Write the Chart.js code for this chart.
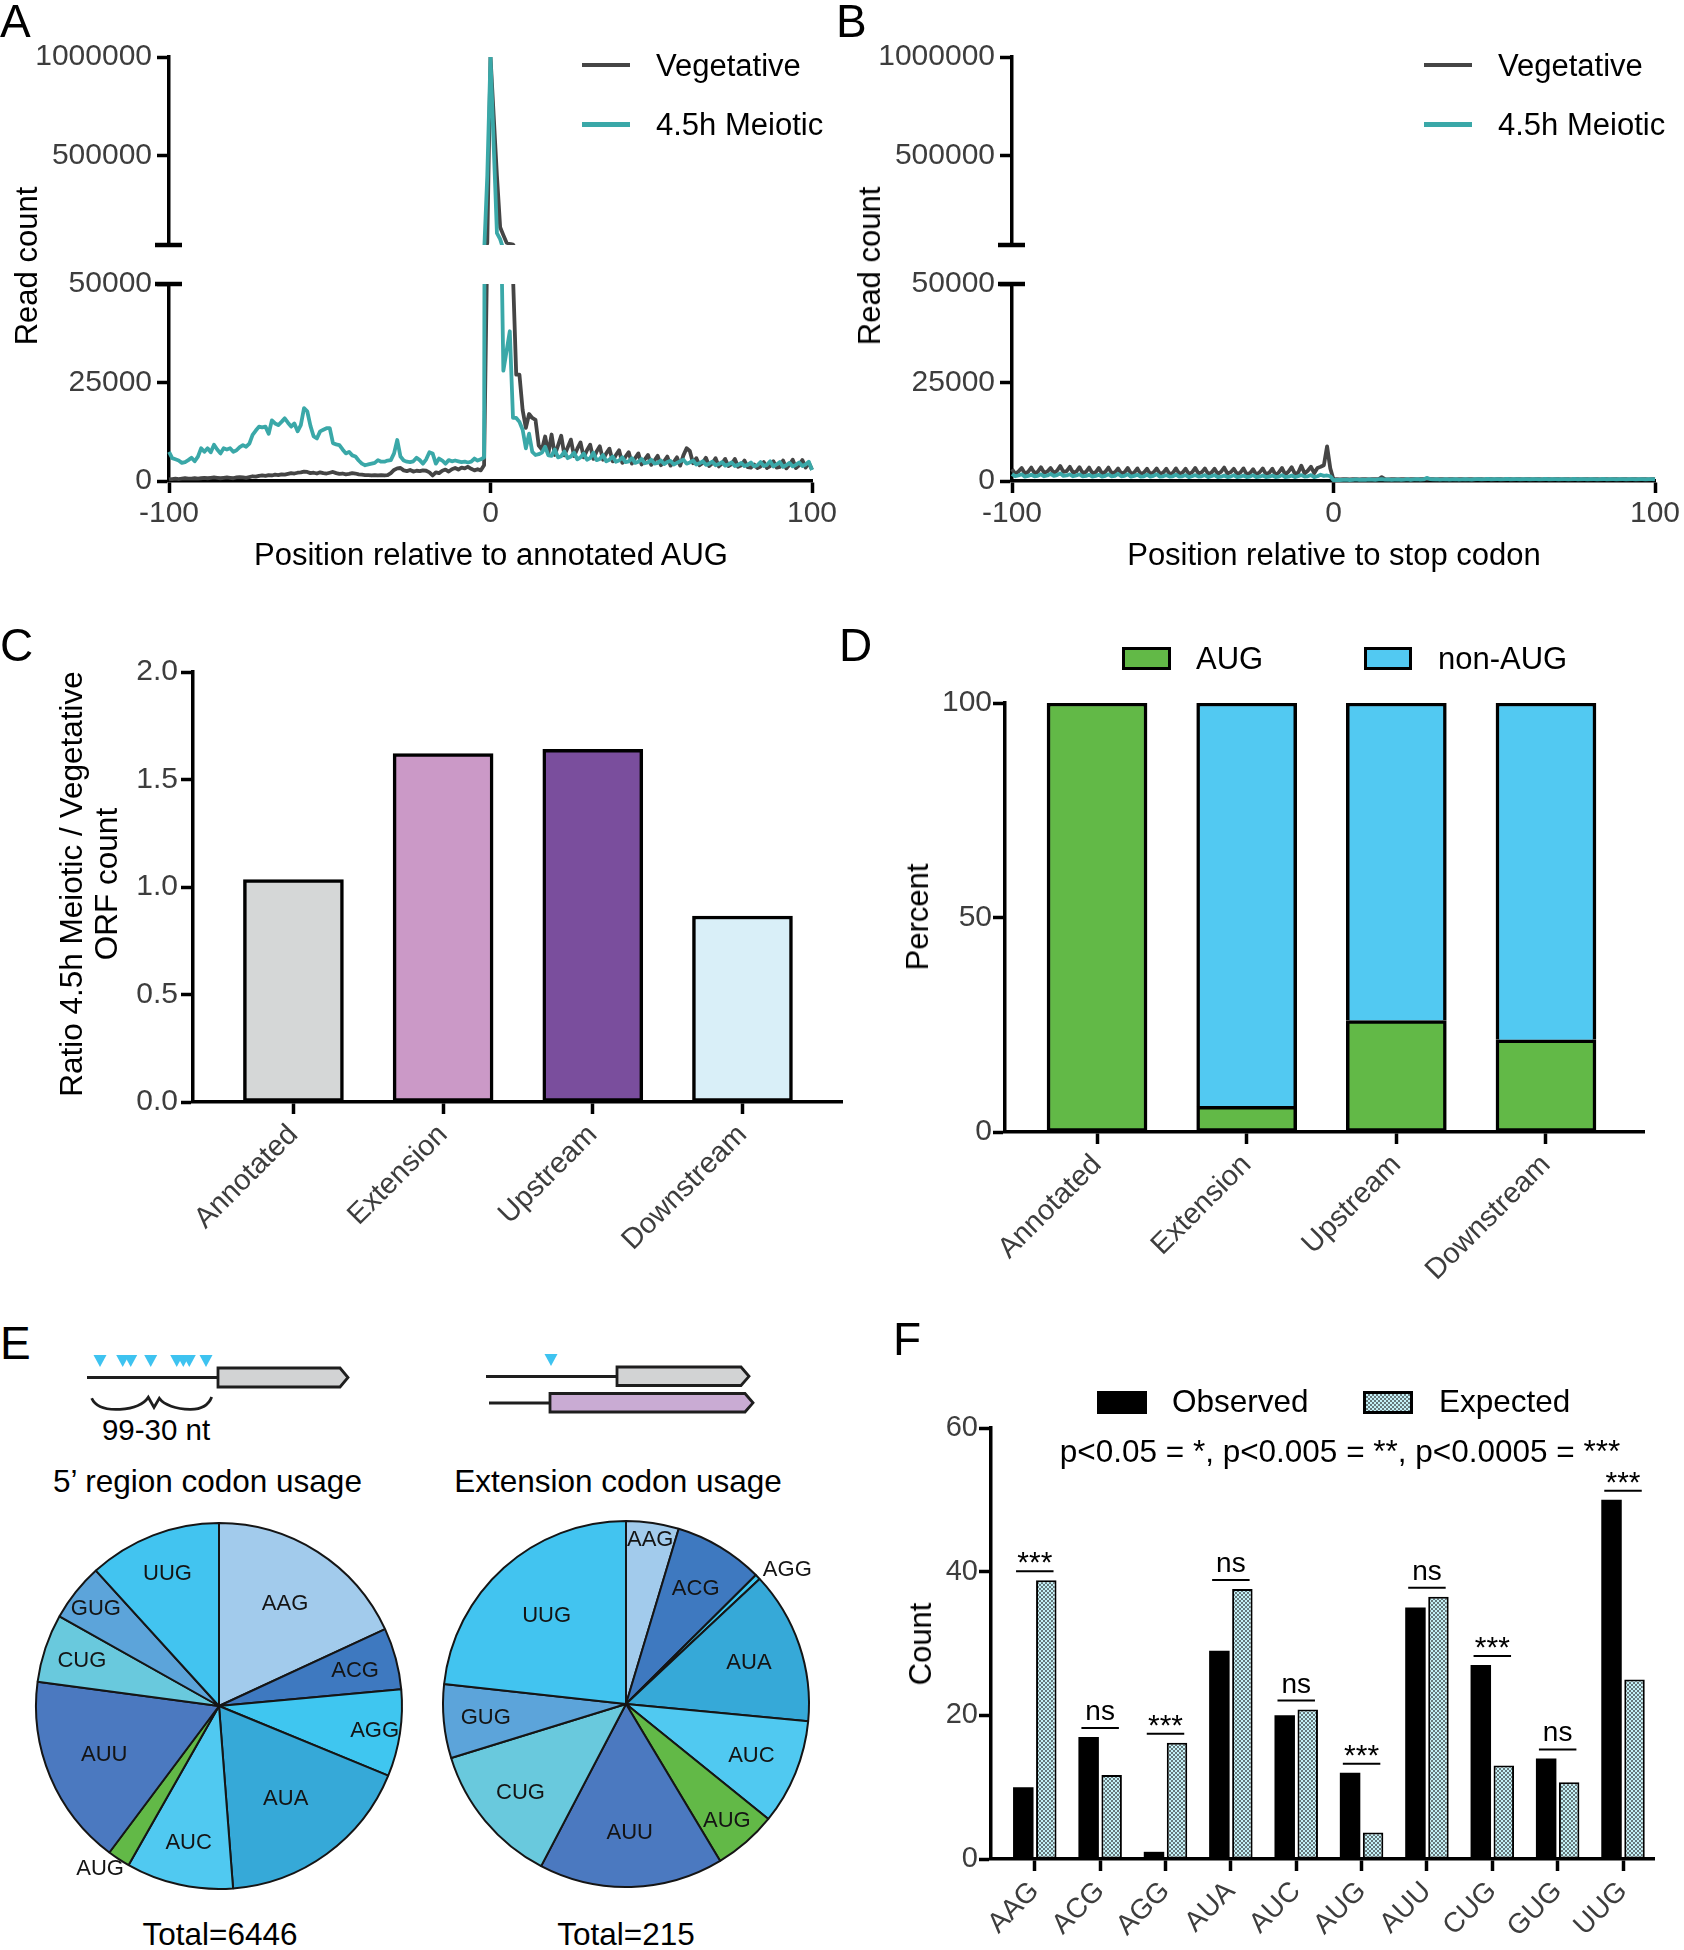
<!DOCTYPE html>
<html>
<head>
<meta charset="utf-8">
<title>Ribosome profiling panels</title>
<script src="https://cdn.jsdelivr.net/npm/chart.js@4.4.1/dist/chart.umd.min.js"></script>
<style>
  html, body { margin: 0; padding: 0; background: #fff; }
  body { position: relative; width: 1684px; height: 1950px; overflow: hidden;
         font-family: "Liberation Sans", Arial, Helvetica, sans-serif; color: #000; }
  canvas { position: absolute; }
  .t { position: absolute; white-space: nowrap; }
  .box { position: absolute; box-sizing: border-box; border: 3px solid #000; }
  .key { position: absolute; height: 4.5px; }
  svg { position: absolute; left: 0; top: 0; }
</style>
</head>
<body>
<svg width="1684" height="1950">
  <g stroke="#1e1e1e" stroke-width="2.8" fill="none">
    <line x1="87" y1="1377.5" x2="218" y2="1377.5"/>
    <line x1="486" y1="1376.5" x2="617" y2="1376.5"/>
    <line x1="489" y1="1403" x2="550" y2="1403"/>
    <path d="M91.7 1398.3 C96 1408 108 1410 120 1409.3 C134 1408.5 144 1404 148.3 1397.3 L154 1407.5 L159.3 1398.3 C164 1405 176 1409 190 1409.3 C202 1409.5 209 1404 211.7 1397"/>
  </g>
  <g stroke="#1e1e1e" stroke-width="2.8">
    <polygon points="218,1368 340,1368 348,1377.5 340,1387 218,1387" fill="#d2d3d4"/>
    <polygon points="617,1367 741,1367 749,1376.3 741,1385.5 617,1385.5" fill="#d2d3d4"/>
    <polygon points="550,1393.5 745,1393.5 753,1402.8 745,1412 550,1412" fill="#c9abd3"/>
  </g>
  <g fill="#3ec3f0">
    <polygon points="93.5,1355 106.5,1355 100,1367"/>
    <polygon points="116.2,1355 129.2,1355 122.7,1367"/>
    <polygon points="124.2,1355 137.2,1355 130.7,1367"/>
    <polygon points="144.2,1355 157.2,1355 150.7,1367"/>
    <polygon points="170.2,1355 183.2,1355 176.7,1367"/>
    <polygon points="176.8,1355 189.8,1355 183.3,1367"/>
    <polygon points="182.8,1355 195.8,1355 189.3,1367"/>
    <polygon points="199.5,1355 212.5,1355 206,1367"/>
    <polygon points="544.5,1354 557.5,1354 551,1366"/>
  </g>
</svg>
<script>
// ---- data ----
const positions = Array.from({length: 201}, (_, i) => i - 100);   // nt, -100 .. 100

// A: read count around the annotated AUG
const aVegetative = [
  400, 500, 600, 500, 600, 700, 600, 600, 700, 600,
  700, 800, 700, 800, 900, 800, 700, 800, 900, 800,
  700, 900, 1000, 900, 800, 1000, 1200, 1100, 1300, 1400,
  1300, 1500, 1400, 1600, 1500, 1700, 1600, 1800, 2000, 1900,
  2100, 2200, 2400, 2300, 2000, 2100, 1900, 2200, 2000, 1900,
  2100, 2300, 2000, 1800, 1900, 1700, 1800, 2000, 1900, 1700,
  1600, 1500, 1500, 1400, 1500, 1400, 1500, 1400, 1500, 2000,
  2800, 3200, 3300, 2700, 2500, 2800, 2400, 2600, 2500, 2700,
  2600, 2200, 1400, 2200, 2000, 2600, 2900, 2400, 3000, 3300,
  2900, 3400, 3200, 3600, 3100, 2700, 3000, 2700, 4000, 60000,
  1000000, 700000, 400000, 140000, 100000, 62000, 56000, 52000, 27000, 27000,
  18000, 13500, 17000, 16000, 15500, 9000, 8000, 11300, 7000, 11800,
  6600, 9000, 11500, 6500, 8500, 10500, 6300, 8200, 9800, 6000,
  7800, 9200, 5600, 7500, 8800, 5400, 7000, 8200, 5000, 6600,
  7800, 4600, 6200, 7300, 4400, 5800, 7000, 4200, 5500, 6600,
  4100, 5200, 6400, 4000, 5000, 6200, 3900, 4800, 6000, 3900,
  6500, 8300, 7600, 4500, 5800, 4000, 4600, 5900, 3800, 4500,
  5800, 3700, 4400, 5600, 3800, 4300, 5600, 3600, 4000, 5200,
  3500, 3400, 4200, 3300, 3700, 4800, 3300, 3800, 5000, 3400,
  3600, 5200, 3200, 4100, 5400, 3300, 4000, 5300, 3400, 4600, 2900
];
const aMeiotic = [
  7400, 5800, 5500, 5200, 4600, 4800, 5300, 5900, 5000, 6200,
  8300, 7400, 8300, 7300, 9200, 8000, 7000, 8300, 8000, 8300,
  7400, 7800, 8600, 9100, 8700, 9500, 11700, 12800, 13800, 13600,
  13800, 12000, 15400, 14600, 14200, 15000, 15900, 14800, 13800, 14600,
  12600, 14200, 18500, 17700, 14000, 11300, 10800, 12600, 13000, 13400,
  13400, 9600, 9300, 9100, 8000, 7000, 7400, 6500, 6200, 5200,
  4400, 4000, 4200, 4400, 4600, 5300, 4900, 4900, 5200, 5300,
  7000, 10400, 6200, 5200, 4900, 4800, 5000, 5900, 5300, 4400,
  5500, 7300, 7000, 4400, 5700, 5200, 4400, 5300, 5000, 5200,
  5000, 4800, 4900, 4700, 4900, 5700, 5200, 5500, 6000, 400000,
  1000000, 550000, 110000, 80000, 28000, 33000, 38000, 16000, 16000, 15000,
  13000, 8300, 12000, 7400, 6600, 6800, 7200, 8700, 6500, 6400,
  8000, 6000, 6300, 7500, 5800, 6200, 7200, 5500, 6000, 7000,
  5400, 5800, 7200, 5300, 5600, 6600, 5000, 5400, 6200, 4900,
  5200, 6000, 4800, 5000, 5800, 4600, 4900, 5600, 4500, 4700,
  5400, 4400, 4600, 5200, 4300, 4800, 5100, 4200, 4600, 5000,
  5400, 4400, 4700, 5200, 4200, 4500, 5000, 4100, 4400, 4900,
  4000, 4300, 4800, 3900, 4200, 4700, 3800, 4100, 4600, 3800,
  4100, 4700, 3700, 4000, 4800, 3800, 4100, 5000, 3700, 4200,
  4800, 3600, 4000, 4600, 3700, 4100, 4700, 3800, 4200, 4900, 2800
];

// B: read count around the stop codon
const bVegetative = [
  3000, 1800, 2400, 3300, 1900, 2300, 3400, 2000, 2300, 3500,
  2100, 2400, 3300, 2000, 2600, 3800, 2300, 2500, 3600, 2100,
  2400, 3500, 2000, 2300, 3400, 2000, 2200, 3300, 1900, 2300,
  3400, 2000, 2200, 3200, 1900, 2200, 3300, 1900, 2100, 3200,
  1800, 2100, 3100, 1800, 2200, 3200, 1900, 2100, 3100, 1800,
  2000, 3200, 1900, 2100, 3100, 1800, 2200, 3300, 1900, 2200,
  3200, 1800, 2100, 3100, 1800, 2300, 3400, 1900, 2200, 3100,
  1800, 2100, 3200, 1700, 2000, 3000, 1600, 2200, 3200, 1700,
  2100, 3100, 1500, 2200, 3300, 1600, 2400, 3500, 1800, 2100,
  3900, 1900, 2600, 3600, 2000, 3300, 3600, 4000, 8800, 3200,
  400, 500, 400, 450, 500, 400, 450, 500, 400, 450,
  500, 400, 450, 500, 450, 1000, 500, 400, 450, 500,
  400, 450, 500, 400, 450, 500, 400, 450, 500, 400,
  450, 500, 400, 450, 500, 400, 450, 500, 400, 450,
  500, 400, 450, 500, 400, 450, 500, 400, 450, 500,
  400, 450, 500, 400, 450, 500, 400, 450, 500, 400,
  450, 500, 400, 450, 500, 400, 450, 500, 400, 450,
  500, 400, 450, 500, 400, 450, 500, 400, 450, 500,
  400, 450, 500, 400, 450, 500, 400, 450, 500, 400,
  450, 500, 400, 450, 500, 400, 450, 500, 400, 450, 500
];
const bMeiotic = [
  1800, 1200, 1400, 1700, 1100, 1300, 1600, 1200, 1300, 1700,
  1200, 1400, 1800, 1300, 1500, 1900, 1300, 1400, 1700, 1200,
  1400, 1700, 1200, 1300, 1600, 1100, 1300, 1600, 1100, 1300,
  1700, 1200, 1300, 1800, 1200, 1300, 1700, 1100, 1300, 1600,
  1100, 1200, 1600, 1100, 1300, 1700, 1100, 1200, 1500, 1100,
  1200, 1600, 1100, 1200, 1500, 1000, 1200, 1500, 1100, 1200,
  1500, 1000, 1200, 1500, 1000, 1100, 1400, 1000, 1100, 1500,
  1000, 1100, 1400, 1000, 1100, 1500, 1000, 1100, 1400, 1000,
  1100, 1400, 1000, 1100, 1500, 1000, 1100, 1400, 1000, 1200,
  1500, 1100, 1200, 1500, 1000, 1200, 1600, 1300, 1400, 1200,
  200, 300, 250, 300, 350, 250, 300, 400, 300, 350,
  300, 400, 350, 300, 400, 500, 350, 400, 300, 350,
  400, 300, 350, 450, 300, 400, 500, 350, 400, 800,
  500, 400, 450, 350, 400, 500, 350, 400, 450, 350,
  400, 500, 400, 350, 450, 500, 400, 450, 550, 400,
  450, 500, 400, 450, 550, 400, 450, 500, 400, 450,
  500, 400, 450, 500, 400, 450, 550, 400, 450, 500,
  400, 450, 500, 400, 450, 550, 400, 450, 500, 400,
  450, 500, 400, 450, 550, 400, 450, 500, 400, 450,
  500, 400, 450, 500, 400, 450, 500, 400, 450, 500, 400
];

// C / D: ORF classes
const orfTypes = ['Annotated', 'Extension', 'Upstream', 'Downstream'];
const orfRatio = [1.035, 1.62, 1.64, 0.865];
const augPercent = [100, 6, 26, 21.5];
const nonAugPercent = [0, 94, 74, 78.5];

// E / F: near-cognate start codons
const codons = ['AAG', 'ACG', 'AGG', 'AUA', 'AUC', 'AUG', 'AUU', 'CUG', 'GUG', 'UUG'];
const fivePrimeCounts = [1167, 351, 494, 1132, 609, 129, 1089, 389, 329, 757];   // total 6446
const observed = [10, 17, 1, 29, 20, 12, 35, 27, 14, 50];                       // total 215
const expected = [38.8, 11.7, 16.2, 37.6, 20.8, 3.7, 36.5, 13.0, 10.7, 25.0];
const significance = ['***', 'ns', '***', 'ns', 'ns', '***', 'ns', '***', 'ns', '***'];

// ---- styles ----
const vegColor = '#454545';
const meiColor = '#3aa8a8';
const tickColor = '#3d3d3d';
const orfColors = ['#d5d7d7', '#cb99c7', '#7a4e9d', '#d9eff8'];
const augColor = '#62b947';
const nonAugColor = '#52c9f2';
const codonColors = ['#a2cbec', '#3e79c0', '#3fc6f0', '#36a9d8', '#50c9f1',
                     '#62b947', '#4b79c0', '#69c9dd', '#5ca4da', '#42c4f0'];
const pie1LabelR = [0.67, 0.77, 0.86, 0.62, 0.76, 1.10, 0.68, 0.79, 0.86, 0.78];
const pie1Shift  = [0, 0, 0, 0, 0, 3, 0, 0, 0, 0];
const pie2LabelR = [0.91, 0.74, 1.15, 0.71, 0.74, 0.84, 0.70, 0.75, 0.77, 0.65];
const pie2Shift  = [0, 0, 4, 0, 0, 0, 0, 0, 0, 0];
const checkDark = '#66787b', checkLight = '#c4f1f7';
const FONT = '"Liberation Sans", Arial, sans-serif';

Chart.defaults.font.family = FONT;
Chart.defaults.color = tickColor;
Chart.defaults.animation = false;
Chart.defaults.responsive = false;
Chart.defaults.devicePixelRatio = 1;
Chart.defaults.plugins.legend.display = false;
Chart.defaults.plugins.tooltip.enabled = false;

// ---- helpers ----
function canvasAt(left, top, w, h) {
  const c = document.createElement('canvas');
  c.width = w; c.height = h;
  c.style.left = left + 'px'; c.style.top = top + 'px';
  c.style.width = w + 'px'; c.style.height = h + 'px';
  document.body.appendChild(c);
  return c;
}

function text(str, x, base, size, align) {
  const d = document.createElement('div');
  d.className = 't';
  d.textContent = str;
  d.style.fontSize = size + 'px';
  d.style.lineHeight = size + 'px';
  d.style.left = x + 'px';
  d.style.top = (base - 0.8465 * size) + 'px';
  if (align === 'center') d.style.transform = 'translateX(-50%)';
  if (align === 'right') d.style.transform = 'translateX(-100%)';
  document.body.appendChild(d);
  return d;
}

function vtext(str, baseX, cy, size) {
  const d = document.createElement('div');
  d.className = 't';
  d.textContent = str;
  d.style.fontSize = size + 'px';
  d.style.lineHeight = size + 'px';
  d.style.left = (baseX - 0.8465 * size) + 'px';
  d.style.top = cy + 'px';
  d.style.transformOrigin = '0 0';
  d.style.transform = 'rotate(-90deg) translateX(-50%)';
  document.body.appendChild(d);
}

function block(cls, left, top, w, h, bg) {
  const d = document.createElement('div');
  d.className = cls;
  d.style.left = left + 'px'; d.style.top = top + 'px';
  d.style.width = w + 'px'; d.style.height = h + 'px';
  d.style.background = bg;
  document.body.appendChild(d);
}

const axisBorder = {display: true, color: '#000', width: 3.5};
const axisGrid = {display: true, offset: false, drawOnChartArea: false, drawTicks: true,
                  tickLength: 12, tickWidth: 3.5, tickColor: '#000'};

function fixedTicks(values) {
  return s => { s.ticks = values.map(v => ({value: v})); };
}

function catAxis(min, max, labels, height, size) {
  return {
    type: 'linear', min, max, offset: false,
    afterBuildTicks: fixedTicks(labels.map((_, i) => i)),
    afterFit: s => { s.height = height; },
    border: axisBorder, grid: axisGrid,
    ticks: {autoSkip: false, minRotation: 45, maxRotation: 45, padding: 4,
            font: {size}, color: tickColor, callback: v => labels[v]}
  };
}

// short bars across the axis where it is broken
const breakCaps = {
  id: 'breakCaps',
  afterDraw(chart, args, opts) {
    const {ctx, chartArea} = chart;
    (opts.values || []).forEach(v => {
      const y = chart.scales.y.getPixelForValue(v);
      ctx.save();
      ctx.strokeStyle = '#000';
      ctx.lineWidth = 4.5;
      ctx.beginPath();
      ctx.moveTo(chartArea.left - 14, y);
      ctx.lineTo(chartArea.left + 13, y);
      ctx.stroke();
      ctx.restore();
    });
  }
};

const sliceLabels = {
  id: 'sliceLabels',
  afterDatasetsDraw(chart, args, opts) {
    const {ctx} = chart;
    ctx.save();
    ctx.font = '22px ' + FONT;
    ctx.fillStyle = '#141414';
    ctx.textAlign = 'center';
    ctx.textBaseline = 'middle';
    chart.getDatasetMeta(0).data.forEach((arc, i) => {
      const mid = (arc.startAngle + arc.endAngle) / 2 + opts.shift[i] * Math.PI / 180;
      const r = arc.outerRadius * opts.radius[i];
      ctx.fillText(chart.data.labels[i], arc.x + Math.cos(mid) * r, arc.y + Math.sin(mid) * r + 1);
    });
    ctx.restore();
  }
};

const sigMarks = {
  id: 'sigMarks',
  afterDatasetsDraw(chart, args, opts) {
    const {ctx} = chart;
    const a = chart.getDatasetMeta(0).data, b = chart.getDatasetMeta(1).data;
    ctx.save();
    ctx.strokeStyle = '#000';
    ctx.fillStyle = '#000';
    ctx.lineWidth = 2;
    ctx.textAlign = 'center';
    ctx.textBaseline = 'alphabetic';
    opts.labels.forEach((lab, i) => {
      const y = Math.min(a[i].y, b[i].y) - 9;
      const x1 = a[i].x - a[i].width / 2 + 3, x2 = b[i].x + b[i].width / 2 - 3;
      ctx.beginPath(); ctx.moveTo(x1, y); ctx.lineTo(x2, y); ctx.stroke();
      const stars = lab.indexOf('*') >= 0;
      ctx.font = (stars ? 30 : 28) + 'px ' + FONT;
      ctx.fillText(lab, (x1 + x2) / 2, stars ? y + 1 : y - 8);
    });
    ctx.restore();
  }
};

function toPoints(values) {
  return positions.map((p, i) => ({x: p, y: values[i]}));
}

// A and B: broken y axis made of two stacked charts
function profile(left, width, padRight, veg, mei) {
  [['top', 30, 238], ['bottom', 260, 320]].forEach(([part, top, h]) => {
    const upper = part === 'top';
    const clip = {left: 2, right: 2, top: 0, bottom: upper ? 0 : 4};
    new Chart(canvasAt(left, top, width, h), {
      type: 'line',
      data: {datasets: [
        {label: '4.5h Meiotic', data: toPoints(mei), borderColor: meiColor, clip},
        {label: 'Vegetative', data: toPoints(veg), borderColor: vegColor, clip}
      ]},
      options: {
        layout: {padding: {left: 0, right: padRight, top: upper ? 27 : 24, bottom: upper ? 15 : 39}},
        elements: {point: {radius: 0}, line: {borderWidth: 3.8, tension: 0, borderJoinStyle: 'round'}},
        plugins: {breakCaps: {values: [50000]}},
        scales: {
          x: {type: 'linear', min: -100, max: 100, display: !upper,
              afterBuildTicks: fixedTicks([-100, 0, 100]),
              afterFit: s => { s.height = upper ? 0 : 60; },
              border: axisBorder, grid: axisGrid,
              ticks: {font: {size: 30}, padding: 3, color: tickColor}},
          y: {min: upper ? 50000 : 0, max: upper ? 1000000 : 50000,
              afterBuildTicks: fixedTicks(upper ? [500000, 1000000] : [0, 25000, 50000]),
              afterFit: s => { s.width = 169; },
              border: axisBorder, grid: axisGrid,
              ticks: {font: {size: 30}, padding: 5, color: tickColor, callback: v => String(v)}}
        }
      },
      plugins: [breakCaps]
    });
  });
}

profile(0, 860, 48, aVegetative, aMeiotic);
profile(843, 841, 29, bVegetative, bMeiotic);

// C: ratio bar chart
new Chart(canvasAt(0, 640, 860, 650), {
  type: 'bar',
  data: {datasets: [{
    data: orfRatio.map((v, i) => ({x: i, y: v})),
    backgroundColor: orfColors, borderColor: '#000', borderWidth: 3.5,
    borderSkipped: false, barThickness: 100
  }]},
  options: {
    layout: {padding: {left: 0, right: 18, top: 32, bottom: 8}},
    scales: {
      x: catAxis(-0.671, 3.665, orfTypes, 180, 29),
      y: {min: 0, max: 2, afterBuildTicks: fixedTicks([0, 0.5, 1, 1.5, 2]),
          afterFit: s => { s.width = 193; },
          border: axisBorder, grid: axisGrid,
          ticks: {font: {size: 30}, padding: 3, color: tickColor, callback: v => v.toFixed(1)}}
    }
  }
});

// D: stacked percent
new Chart(canvasAt(843, 670, 841, 650), {
  type: 'bar',
  data: {datasets: [
    {label: 'AUG', data: augPercent.map((v, i) => ({x: i, y: v})), backgroundColor: augColor,
     borderColor: '#000', borderWidth: 3.5, borderSkipped: false, barThickness: 100},
    {label: 'non-AUG', data: nonAugPercent.map((v, i) => ({x: i, y: v})), backgroundColor: nonAugColor,
     borderColor: '#000', borderWidth: 3.5, borderSkipped: 'start', barThickness: 100}
  ]},
  options: {
    layout: {padding: {left: 0, right: 40, top: 33, bottom: 8}},
    scales: {
      x: Object.assign(catAxis(-0.615, 3.655, orfTypes, 180, 29), {stacked: true}),
      y: {stacked: true, min: 0, max: 100, afterBuildTicks: fixedTicks([0, 50, 100]),
          afterFit: s => { s.width = 162; },
          border: axisBorder, grid: axisGrid,
          ticks: {font: {size: 30}, padding: 1, color: tickColor}}
    }
  }
});

// E: codon usage pies
function pie(left, top, counts, radii, shifts) {
  new Chart(canvasAt(left, top, 400, 400), {
    type: 'pie',
    data: {labels: codons, datasets: [{
      data: counts, backgroundColor: codonColors, borderColor: '#151515', borderWidth: 2, radius: 183
    }]},
    options: {layout: {padding: 0}, plugins: {sliceLabels: {radius: radii, shift: shifts}}},
    plugins: [sliceLabels]
  });
}
pie(19, 1506, fivePrimeCounts, pie1LabelR, pie1Shift);
pie(426, 1504, observed, pie2LabelR, pie2Shift);

// F: observed vs expected counts
const fCanvas = canvasAt(843, 1400, 841, 550);
const tile = document.createElement('canvas');
tile.width = 4; tile.height = 4;
const tg = tile.getContext('2d');
tg.fillStyle = checkLight; tg.fillRect(0, 0, 4, 4);
tg.fillStyle = checkDark; tg.fillRect(0, 0, 2, 2); tg.fillRect(2, 2, 2, 2);
const checker = fCanvas.getContext('2d').createPattern(tile, 'repeat');

new Chart(fCanvas, {
  type: 'bar',
  data: {datasets: [
    {label: 'Observed', data: observed.map((v, i) => ({x: i, y: v})), backgroundColor: '#000',
     borderWidth: 0, categoryPercentage: 0.704, barPercentage: 0.89},
    {label: 'Expected', data: expected.map((v, i) => ({x: i, y: v})), backgroundColor: checker,
     borderColor: '#000', borderWidth: 2, borderSkipped: false, categoryPercentage: 0.704, barPercentage: 0.89}
  ]},
  options: {
    layout: {padding: {left: 0, right: 30, top: 28, bottom: 3}},
    plugins: {sigMarks: {labels: significance}},
    scales: {
      x: catAxis(-0.67, 9.474, codons, 88, 28),
      y: {min: 0, max: 60, afterBuildTicks: fixedTicks([0, 20, 40, 60]),
          afterFit: s => { s.width = 148; },
          border: axisBorder, grid: axisGrid,
          ticks: {font: {size: 29}, padding: 1, color: tickColor}}
    }
  },
  plugins: [sigMarks]
});

// ---- text, legends ----
[['A', 0, 0], ['B', 836, 0], ['C', 0, 624], ['D', 839, 624], ['E', 0, 1322], ['F', 893, 1318]]
  .forEach(([l, x, y]) => text(l, x, y + 37, 46));

block('key', 582, 62.5, 48, 4.5, vegColor);
block('key', 582, 122.3, 48, 4.5, meiColor);
text('Vegetative', 656, 76, 31);
text('4.5h Meiotic', 656, 135.5, 31);
block('key', 1424, 62.5, 48, 4.5, vegColor);
block('key', 1424, 122.3, 48, 4.5, meiColor);
text('Vegetative', 1498, 76, 31);
text('4.5h Meiotic', 1498, 135.5, 31);

vtext('Read count', 37.5, 266, 31);
vtext('Read count', 880, 266, 31);
text('Position relative to annotated AUG', 491, 565, 31, 'center');
text('Position relative to stop codon', 1334, 565, 31, 'center');

vtext('Ratio 4.5h Meiotic / Vegetative', 82.5, 884, 31.5);
vtext('ORF count', 118, 884, 31.5);

block('box', 1122, 647, 49, 23, augColor);
text('AUG', 1196, 669, 31);
block('box', 1364, 647, 48, 23, nonAugColor);
text('non-AUG', 1438, 669, 31);
vtext('Percent', 928, 917, 31);

text('99-30 nt', 156, 1440, 29.5, 'center');
text('5\u2019 region codon usage', 207.5, 1493, 31.5, 'center');
text('Extension codon usage', 618, 1493, 31.5, 'center');
text('Total=6446', 220, 1946, 31.5, 'center');
text('Total=215', 626, 1946, 31.5, 'center');

block('box', 1097, 1390.5, 50, 23, '#000');
text('Observed', 1172, 1413, 31.5);
block('box', 1362.5, 1390.5, 50, 23,
      'repeating-conic-gradient(' + checkDark + ' 0 25%, ' + checkLight + ' 0 50%) 0 0 / 4px 4px');
text('Expected', 1439, 1413, 31.5);
text('p<0.05 = *, p<0.005 = **, p<0.0005 = ***', 1340, 1463, 31.5, 'center');
vtext('Count', 931, 1644, 31);
</script>
</body>
</html>
